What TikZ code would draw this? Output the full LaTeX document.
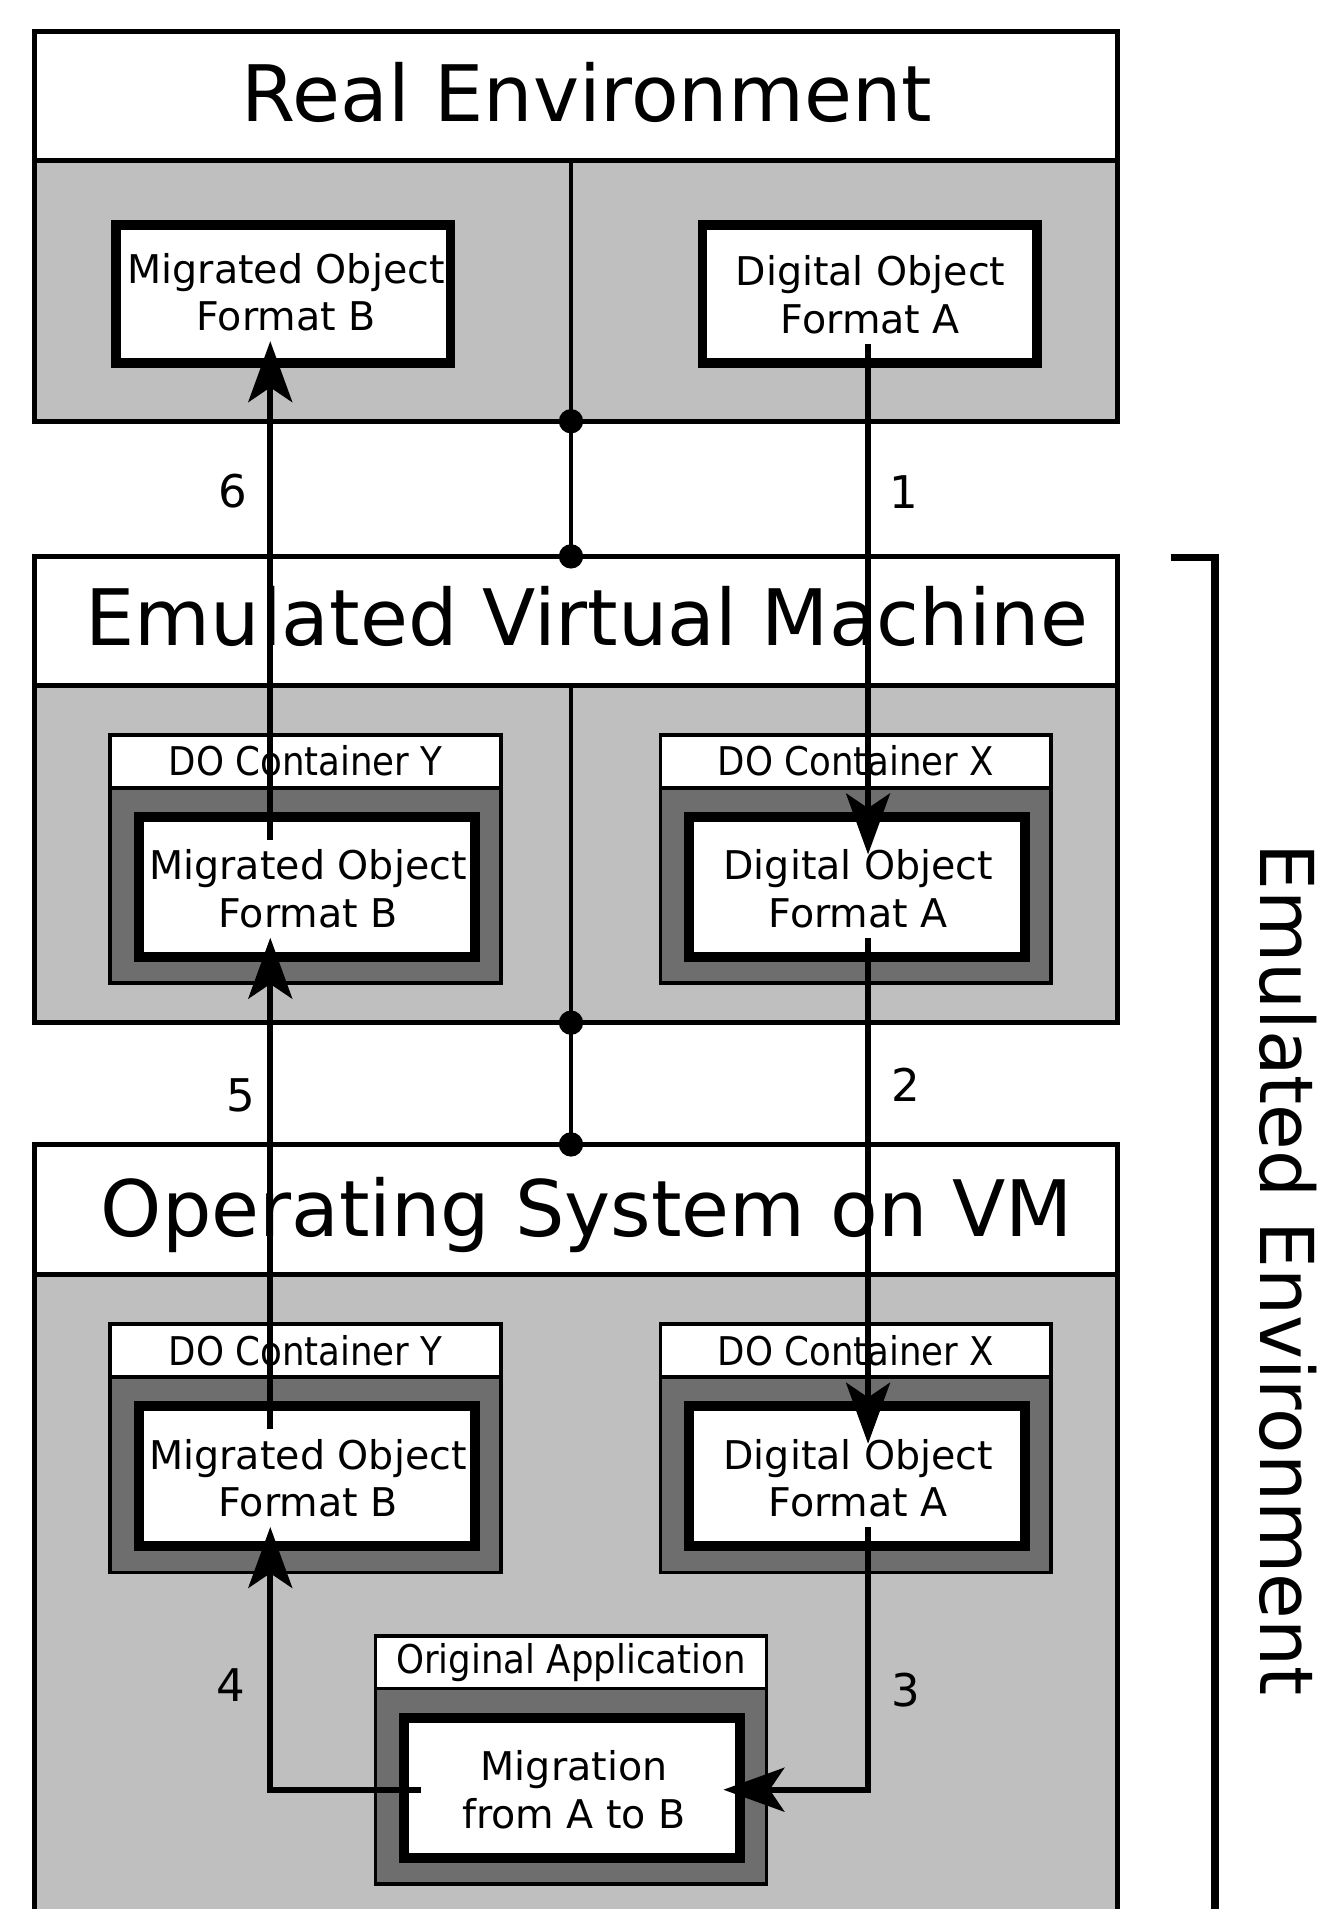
\documentclass[tikz,border=0pt]{standalone}
\usepackage{fontspec}
\setmainfont{DejaVu Sans}
\newfontfamily\condfont[FakeStretch=0.9]{DejaVu Sans}
\usetikzlibrary{arrows.meta,calc}
\definecolor{bodygrey}{RGB}{191,191,191}
\definecolor{darkgrey}{RGB}{110,110,110}
\newcommand{\mkcontainer}[5]{%
  \node[cont] (#1) at (#2,#3+103.5) {};
  \node[conthead] (#1h) at (#2,#3+23.25) {#4};
  \node[objbox] (#1i) at (#2+1,#3+126.5) {};
  \node[objtext] (#1t) at (#2+2,#3+128) {#5};
}
\begin{document}
\begin{tikzpicture}[x=1pt,y=-1pt,
  boxline/.style={draw=black, line width=4pt, outer sep=0pt, inner sep=0pt, minimum width=890pt},
  band/.style={boxline, fill=white},
  bodyg/.style={boxline, fill=bodygrey},
  cont/.style={draw=black, line width=3pt, fill=darkgrey, outer sep=0pt, inner sep=0pt, minimum width=321pt, minimum height=204pt},
  conthead/.style={draw=black, line width=3pt, fill=white, outer sep=0pt, inner sep=0pt, minimum width=321pt, minimum height=43.5pt, font=\condfont\fontsize{32.5}{39}\selectfont},
  objbox/.style={draw=black, line width=8pt, fill=white, outer sep=0pt, inner sep=0pt, minimum width=276pt, minimum height=115pt},
  objtext/.style={inner sep=0pt, minimum height=80pt, align=center, font=\fontsize{32.5}{39}\selectfont},
  arr/.style={line width=5pt, -{Stealth[length=50pt,width=36pt,inset=12pt]}},
  num/.style={font=\fontsize{37}{44}\selectfont, inner sep=0pt},
  titletext/.style={font=\fontsize{64}{77}\selectfont, inner sep=0pt, anchor=base},
  divline/.style={line width=3.3pt},
  dotmark/.style={fill=black}
]
\path[use as bounding box] (0,0) rectangle (1088,1568);
\clip (0,0) rectangle (1088,1568);
\fill[white] (0,0) rectangle (1088,1568);

\coordinate (colL) at (222,0);
\coordinate (colR) at (713,0);
\coordinate (colM) at (469,0);

% Real Environment
\node[band, minimum height=106pt] (reT) at (473,79) {};
\node[bodyg, minimum height=214pt] (reB) at (473,239) {};
\node[titletext] (reTt) at (482,100) {Real Environment};

% Emulated Virtual Machine
\node[band, minimum height=106pt] (evT) at (473,510) {};
\node[bodyg, minimum height=277pt] (evB) at (473,701.5) {};
\node[titletext] (evTt) at (482,530) {Emulated Virtual Machine};

% Operating System on VM
\node[band, minimum height=107pt] (osT) at (473,993.5) {};
\node[bodyg, minimum height=553pt] (osB) at (473,1323.5) {};
\node[titletext] (osTt) at (482,1016) {Operating System on VM};

% dividers and links
\draw[divline] (reT.south -| colM) -- (evT.north -| colM);
\draw[divline] (evT.south -| colM) -- (osT.north -| colM);
\fill[dotmark] (reB.south -| colM) circle[radius=10pt];
\fill[dotmark] (evT.north -| colM) circle[radius=10pt];
\fill[dotmark] (evB.south -| colM) circle[radius=10pt];
\fill[dotmark] (osT.north -| colM) circle[radius=10pt];

% Real environment objects
\node[objbox, minimum width=275pt, minimum height=113pt] (reM) at (232.5,241.5) {};
\node[objtext] (reMt) at (235,240) {Migrated Object\\Format B};
\node[objbox, minimum width=275pt, minimum height=113pt] (reD) at (714.5,241.5) {};
\node[objtext] (reDt) at (715,242) {Digital Object\\Format A};

% containers
\mkcontainer{evY}{251}{602}{DO Container Y}{Migrated Object\\Format B}
\mkcontainer{evX}{703}{602}{DO Container X}{Digital Object\\Format A}
\mkcontainer{osY}{251}{1086}{DO Container Y}{Migrated Object\\Format B}
\mkcontainer{osX}{703}{1086}{DO Container X}{Digital Object\\Format A}
\mkcontainer{app}{469}{1342}{Original Application}{}
\node[objtext, minimum width=251pt] (mig) at (471.5,1470) {Migration\\from A to B};

% arrows
\draw[arr, shorten >=-12pt] (reDt.south -| colR) -- (evXt.north -| colR)
  node[num, pos=0.30, xshift=29pt] {1};
\draw[arr, shorten >=-12pt] (evXt.south -| colR) -- (osXt.north -| colR)
  node[num, pos=0.30, xshift=31pt] {2};
\draw[arr, shorten >=-3pt] (osXt.south -| colR) |- (mig.east)
  node[num, pos=0.31, xshift=31pt] {3};
\draw[arr] (mig.west) -| (osYt.south -| colL)
  node[num, pos=0.70, xshift=-32pt] {4};
\draw[arr] (osYt.north -| colL) -- (evYt.south -| colL)
  node[num, pos=0.68, xshift=-24pt] {5};
\draw[arr] (evYt.north -| colL) -- (reMt.south -| colL)
  node[num, pos=0.70, xshift=-31pt] {6};

% bracket
\coordinate (brTop) at (962,458);
\coordinate (brBot) at (998,1600);
\draw[line width=6pt] (brTop) -| (brBot);
\node[titletext, font=\fontsize{61}{73}\selectfont, rotate=-90] (emu) at (1035,1042.5) {Emulated Environment};
\end{tikzpicture}
\end{document}
